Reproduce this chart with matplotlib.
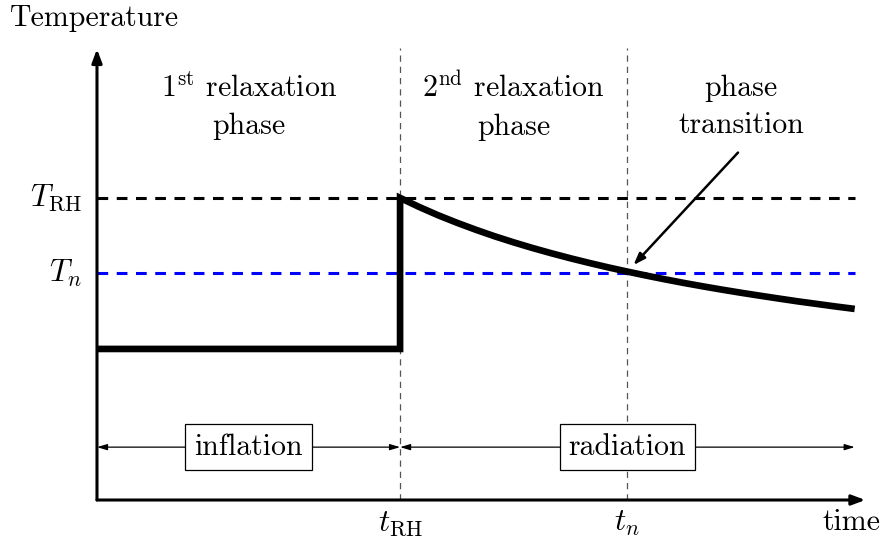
import numpy as np
import matplotlib.pyplot as plt

plt.rcParams['font.family'] = 'serif'
plt.rcParams['font.serif'] = ['cmr10', 'DejaVu Serif']
plt.rcParams['mathtext.fontset'] = 'cm'
plt.rcParams['axes.unicode_minus'] = False

# characteristic times and temperatures (arbitrary units)
t_RH = 4.0
t_n = 7.0
t_end = 10.0
T_RH = 4.0
T_n = 3.0
T_infl = 2.0

# temperature during the 2nd relaxation phase
t_rad = [4.0, 4.25, 4.5, 4.75, 5.0, 5.25, 5.5, 5.75, 6.0, 6.25, 6.5, 6.75, 7.0,
         7.25, 7.5, 7.75, 8.0, 8.25, 8.5, 8.75, 9.0, 9.25, 9.5, 9.75, 10.0]
T_rad = [4.000, 3.881, 3.771, 3.671, 3.578, 3.491, 3.411, 3.336, 3.266, 3.200,
         3.138, 3.079, 3.024, 2.971, 2.921, 2.873, 2.828, 2.785, 2.744, 2.705,
         2.667, 2.630, 2.596, 2.562, 2.530]

t_curve = [0.0, t_RH] + t_rad
T_curve = [T_infl, T_infl] + T_rad

phase_labels = [r'1$^{\rm st}$ relaxation' + '\nphase',
                r'2$^{\rm nd}$ relaxation' + '\nphase',
                'phase\ntransition']
phase_pos = [2.0, 5.5, 8.5]

fig = plt.figure(figsize=(8.85, 5.38), dpi=100)
ax = fig.add_axes([0, 0, 1, 1])
ax.set_xlim(-1.28, 10.40)
ax.set_ylim(-0.503, 6.62)
ax.axis('off')

fs = 21.5

# axes with arrows
ax.annotate('', xy=(10.14, 0), xytext=(0, 0),
            arrowprops=dict(arrowstyle='-|>,head_length=0.8,head_width=0.3',
                            lw=2.2, color='black', shrinkA=0, shrinkB=0))
ax.annotate('', xy=(0, 5.97), xytext=(0, 0),
            arrowprops=dict(arrowstyle='-|>,head_length=0.8,head_width=0.3',
                            lw=2.2, color='black', shrinkA=0, shrinkB=0))

# vertical guide lines
for tt in [t_RH, t_n]:
    ax.plot([tt, tt], [0, 5.99], color='#555555', lw=0.9, ls=(0, (5, 4)))

# horizontal reference temperatures
ax.plot([0, t_end], [T_RH, T_RH], color='black', lw=2.2, ls=(0, (3.5, 2.8)))
ax.plot([0, t_end], [T_n, T_n], color='blue', lw=2.2, ls=(0, (3.5, 2.8)))

# temperature history
ax.plot(t_curve, T_curve, color='black', lw=4.8, solid_joinstyle='miter',
        solid_capstyle='butt')

# epoch arrows
y_ep = 0.70
for a, b, lab in [(0, t_RH, 'inflation'), (t_RH, t_end, 'radiation')]:
    ax.annotate('', xy=(b, y_ep), xytext=(a, y_ep),
                arrowprops=dict(arrowstyle='<|-|>,head_length=0.6,head_width=0.18',
                                lw=0.9, color='black', shrinkA=0, shrinkB=0))
    ax.text((a + b) / 2, y_ep, lab, fontsize=fs, ha='center', va='center',
            bbox=dict(boxstyle='square,pad=0.3', fc='white', ec='black', lw=0.9))

# phase labels
for lab, x in zip(phase_labels, phase_pos):
    ax.text(x, 5.2, lab, fontsize=fs, ha='center', va='center', linespacing=1.45)

# pointer to the transition
ax.annotate('', xy=(7.08, 3.11), xytext=(8.46, 4.6),
            arrowprops=dict(arrowstyle='-|>,head_length=0.7,head_width=0.25',
                            lw=1.8, color='black', shrinkA=0, shrinkB=0))

# axis labels and ticks
ax.text(-1.15, 6.38, 'Temperature', fontsize=fs, ha='left', va='center')
ax.text(10.34, -0.29, 'time', fontsize=fs, ha='right', va='center')
ax.text(-0.2, T_RH, r'$T_{\rm RH}$', fontsize=fs + 1, ha='right', va='center')
ax.text(-0.2, T_n, r'$T_n$', fontsize=fs + 1, ha='right', va='center')
ax.text(t_RH, -0.31, r'$t_{\rm RH}$', fontsize=fs + 1, ha='center', va='center')
ax.text(t_n, -0.31, r'$t_n$', fontsize=fs + 1, ha='center', va='center')

fig.savefig('out.png', dpi=100)
